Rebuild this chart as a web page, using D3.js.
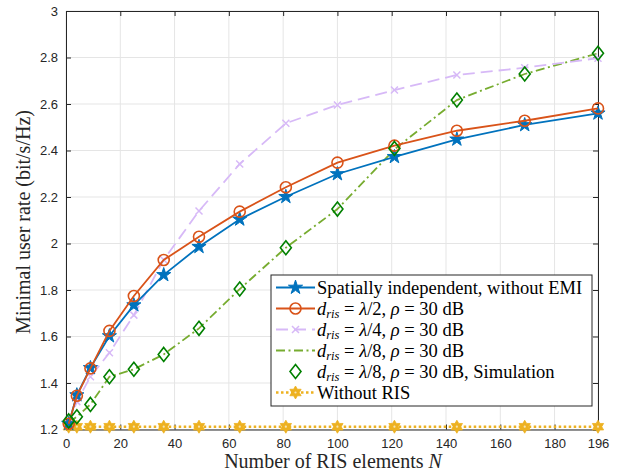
<!DOCTYPE html>
<html><head><meta charset="utf-8">
<script src="https://cdn.jsdelivr.net/npm/d3@7"></script>
<style>body{margin:0;background:#fff}svg{display:block}</style>
</head><body>
<svg id="c" width="617" height="473"></svg>
<script>
const N = [1,4,9,16,25,36,49,64,81,100,121,144,169,196];
const indep   = [1.225,1.348,1.465,1.602,1.735,1.865,1.986,2.104,2.201,2.299,2.373,2.448,2.510,2.560];
const half    = [1.225,1.345,1.463,1.624,1.774,1.929,2.029,2.137,2.242,2.348,2.421,2.485,2.528,2.581];
const quarter = [1.225,1.320,1.427,1.530,1.692,1.930,2.140,2.342,2.517,2.596,2.660,2.725,2.756,2.797];
const eighth  = [1.230,1.255,1.308,1.427,1.459,1.523,1.635,1.804,1.982,2.148,2.405,2.617,2.729,2.818];
const eighthSim=[1.237,1.255,1.308,1.427,1.459,1.523,1.635,1.804,1.982,2.148,2.409,2.617,2.729,2.818];
const noRIS   = [1.212,1.212,1.212,1.212,1.212,1.212,1.212,1.212,1.212,1.212,1.212,1.212,1.212,1.212];
const xTicks = [0,20,40,60,80,100,120,140,160,180,196];
const yTicks = [1.2,1.4,1.6,1.8,2,2.2,2.4,2.6,2.8,3];

const svg = d3.select("#c");
const L=66, R=598, T=11, B=429.5;
const x = d3.scaleLinear().domain([0,196]).range([L,R]);
const y = d3.scaleLinear().domain([1.2,3]).range([B,T]);

// grid
const g = svg.append("g");
g.selectAll(".gx").data(xTicks).enter().append("line")
 .attr("x1",d=>x(d)).attr("x2",d=>x(d)).attr("y1",T).attr("y2",B)
 .attr("stroke","#e5e5e5").attr("stroke-width",1);
g.selectAll(".gy").data(yTicks).enter().append("line")
 .attr("y1",d=>y(d)).attr("y2",d=>y(d)).attr("x1",L).attr("x2",R)
 .attr("stroke","#e5e5e5").attr("stroke-width",1);

// axes
const axCol="#262626";
const fmt = d=>String(d);
const xb = svg.append("g").attr("transform",`translate(0,${B})`)
 .call(d3.axisBottom(x).tickValues(xTicks).tickFormat(fmt).tickSizeInner(-5).tickSizeOuter(0).tickPadding(9));
const xt = svg.append("g").attr("transform",`translate(0,${T})`)
 .call(d3.axisTop(x).tickValues(xTicks).tickFormat("").tickSizeInner(-5).tickSizeOuter(0));
const yl = svg.append("g").attr("transform",`translate(${L},0)`)
 .call(d3.axisLeft(y).tickValues(yTicks).tickFormat(fmt).tickSizeInner(-5).tickSizeOuter(0).tickPadding(8));
const yr = svg.append("g").attr("transform",`translate(${R},0)`)
 .call(d3.axisRight(y).tickValues(yTicks).tickFormat("").tickSizeInner(-5).tickSizeOuter(0));
[xb,xt,yl,yr].forEach(a=>{
  a.selectAll("path").attr("stroke",axCol).attr("stroke-width",1);
  a.selectAll("line").attr("stroke",axCol);
  a.selectAll("text").attr("fill",axCol).style("font-family","'Liberation Sans',Arial,sans-serif").style("font-size","13px");
});

// series
const series = [
 {v:indep, color:"#0072BD", dash:null, w:1.8, m:"star"},
 {v:half, color:"#D95319", dash:null, w:1.8, m:"circle"},
 {v:quarter, color:"#D7B9F7", dash:"12,6", w:1.8, m:"x"},
 {v:eighth, color:"#77AC30", dash:"9,3.5,2,3.5", w:1.8, m:null},
 {v:eighthSim, color:"#008000", dash:null, w:0, m:"diamond"},
 {v:noRIS, color:"#EDB120", dash:"2.5,2.5", w:2.5, m:"hex"}
];
function hexPath(r){
  let p="";
  for(let i=0;i<12;i++){
    const a=-Math.PI/2+i*Math.PI/6;
    const rr = i%2===0? r : r*0.58;
    p+=(i?"L":"M")+(rr*Math.cos(a)).toFixed(2)+","+(rr*Math.sin(a)).toFixed(2);
  }
  return p+"Z";
}
function drawMarker(sel, m, color){
  if(m==="star"){
    sel.append("path").attr("d",d3.symbol().type(d3.symbolStar).size(62)())
      .attr("fill",color).attr("stroke",color).attr("stroke-width",1);
  } else if(m==="circle"){
    sel.append("circle").attr("r",5.5).attr("fill","none").attr("stroke",color).attr("stroke-width",1.6);
  } else if(m==="x"){
    sel.append("path").attr("d","M-3.5,-3.5L3.5,3.5M-3.5,3.5L3.5,-3.5").attr("stroke",color).attr("stroke-width",1.5);
  } else if(m==="diamond"){
    sel.append("path").attr("d","M0,-7L5.5,0L0,7L-5.5,0Z").attr("fill","none").attr("stroke",color).attr("stroke-width",1.6);
  } else if(m==="hex"){
    sel.append("path").attr("d",hexPath(6.5)).attr("fill",color).attr("stroke",color).attr("stroke-width",0.8);
    sel.append("circle").attr("r",1.1).attr("fill","#f7e3b0");
  }
}
const line = d3.line().x((d,i)=>x(N[i])).y(d=>y(d));
const order=[5,3,2,0,1,4];
order.forEach(k=>{
  const s=series[k];
  if(s.w>0){
    svg.append("path").datum(s.v).attr("d",line).attr("fill","none")
      .attr("stroke",s.color).attr("stroke-width",s.w)
      .attr("stroke-dasharray",s.dash);
  }
  if(s.m){
    s.v.forEach((v,i)=>{
      const mg=svg.append("g").attr("transform",`translate(${x(N[i])},${y(v)})`);
      drawMarker(mg,s.m,s.color);
    });
  }
});

// legend
const legX=271, legY=275, legW=321, legH=131;
svg.append("rect").attr("x",legX).attr("y",legY).attr("width",legW).attr("height",legH)
  .attr("fill","#fff").attr("stroke",axCol).attr("stroke-width",1);
const serif="'Liberation Serif','DejaVu Serif',serif";
const labels=[
  [{t:"Spatially independent, without EMI"}],
  [{t:"d",i:1},{t:"ris",i:1,sub:1},{t:" = "},{t:"λ",i:1},{t:"/2, "},{t:"ρ",i:1},{t:" = 30 dB"}],
  [{t:"d",i:1},{t:"ris",i:1,sub:1},{t:" = "},{t:"λ",i:1},{t:"/4, "},{t:"ρ",i:1},{t:" = 30 dB"}],
  [{t:"d",i:1},{t:"ris",i:1,sub:1},{t:" = "},{t:"λ",i:1},{t:"/8, "},{t:"ρ",i:1},{t:" = 30 dB"}],
  [{t:"d",i:1},{t:"ris",i:1,sub:1},{t:" = "},{t:"λ",i:1},{t:"/8, "},{t:"ρ",i:1},{t:" = 30 dB, Simulation"}],
  [{t:"Without RIS"}]
];
const rowY=[287.5,308.5,329.5,350.5,371.5,392.5];
series.forEach((s,k)=>{
  const cy=rowY[k];
  if(s.w>0){
    svg.append("line").attr("x1",276).attr("x2",315).attr("y1",cy).attr("y2",cy)
      .attr("stroke",s.color).attr("stroke-width",s.w).attr("stroke-dasharray",s.dash);
  }
  if(s.m){
    const mg=svg.append("g").attr("transform",`translate(295.5,${cy})`);
    drawMarker(mg,s.m,s.color);
  }
  const tx=svg.append("text").attr("x",317).attr("y",cy+6)
    .style("font-family",serif).style("font-size","18.5px").attr("fill","#000");
  let prevSub=false;
  labels[k].forEach(p=>{
    const ts=tx.append("tspan").text(p.t);
    if(p.i) ts.style("font-style","italic");
    if(p.sub){ ts.attr("dy",3).style("font-size","12.5px"); prevSub=true; }
    else if(prevSub){ ts.attr("dy",-3); prevSub=false; }
  });
});

// axis titles
svg.append("text").attr("x",333).attr("y",468).attr("text-anchor","middle")
  .style("font-family",serif).style("font-size","20px").attr("fill",axCol)
  .html("Number of RIS elements <tspan font-style='italic'>N</tspan>");
svg.append("text").attr("transform","translate(30,222) rotate(-90)").attr("text-anchor","middle")
  .style("font-family",serif).style("font-size","20px").attr("fill",axCol)
  .text("Minimal user rate (bit/s/Hz)");
</script>
</body></html>
